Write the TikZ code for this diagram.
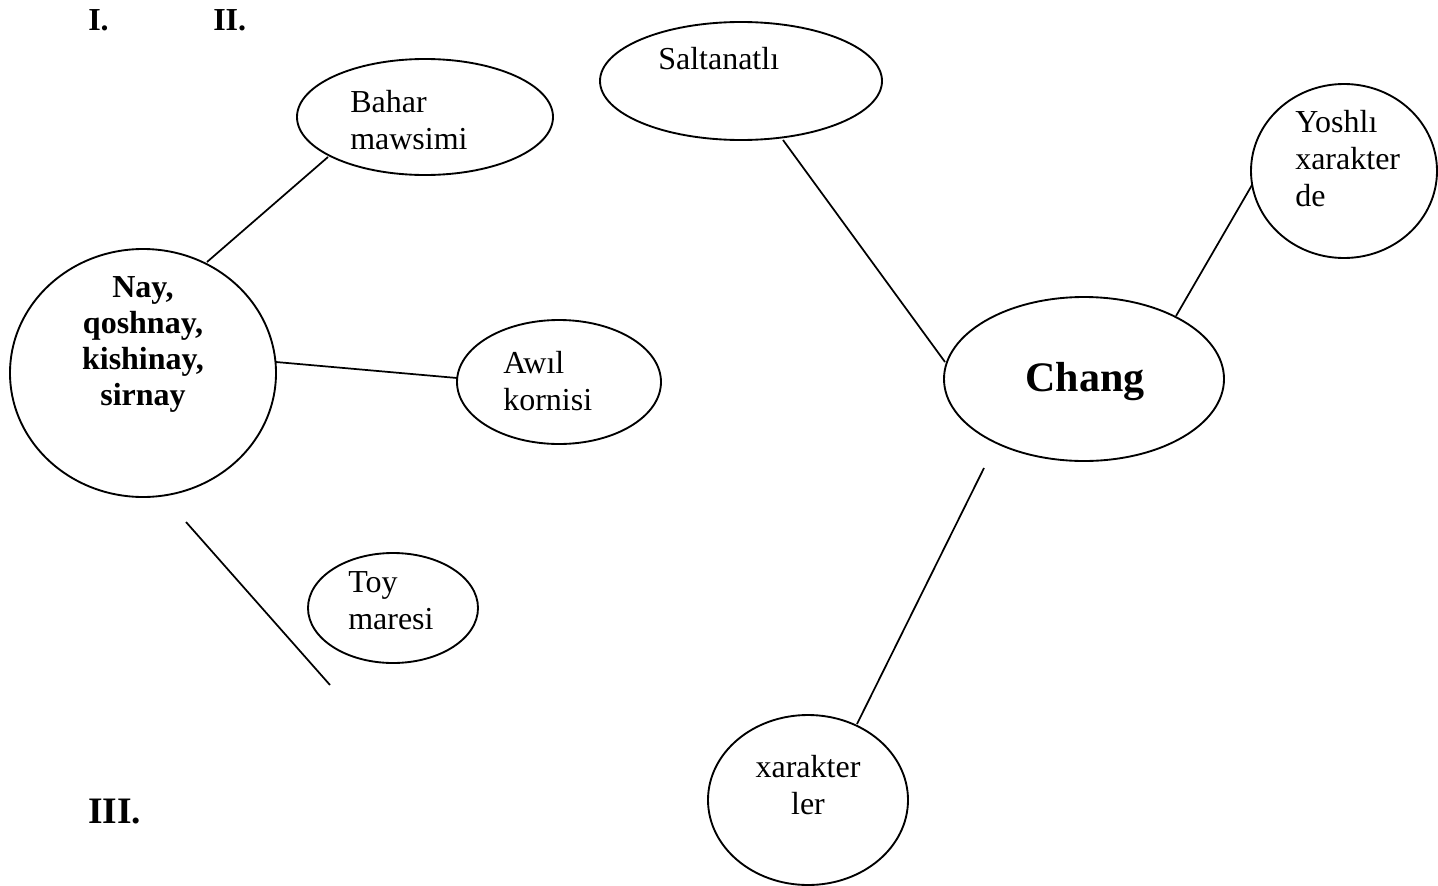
\documentclass[tikz,border=0pt]{standalone}
\usepackage{fontspec}
\setmainfont{Liberation Serif}
\usetikzlibrary{shapes.geometric}
\begin{document}
\begin{tikzpicture}[x=0.75pt,y=-0.75pt,
  ell/.style 2 args={draw, ellipse, line width=1.4pt, inner sep=0pt,
     minimum width=1.5*#1pt, minimum height=1.5*#2pt},
  lbl/.style={inner sep=0pt, anchor=base west, align=left,
     font=\fontsize{24}{27.6}\selectfont},
  clbl/.style={inner sep=0pt, anchor=base, align=center,
     font=\fontsize{24}{27.6}\selectfont},
  conn/.style={line width=1.3pt}]
\useasboundingbox (0,0) rectangle (1438,885);
% ellipses
\node[ell={128}{58}] (ebahar) at (425,117) {};
\node[ell={133}{124}] (enay) at (143,373) {};
\node[ell={102}{62}] (eawil) at (559,382) {};
\node[ell={85}{55}] (etoy) at (393,608) {};
\node[ell={141}{59}] (esalt) at (741,81) {};
\node[ell={140}{82}] (echang) at (1084,379) {};
\node[ell={93}{87}] (eyosh) at (1344,171) {};
\node[ell={100}{85}] (exar) at (808,800) {};
% texts (base anchor = baseline of last line)
\node[lbl] (tbahar) at (350,149) {Bahar\\mawsimi};
\node[lbl] (tawil) at (503,410) {Awıl\\kornisi};
\node[lbl] (ttoy) at (348,629) {Toy\\maresi};
\node[lbl] (tsalt) at (658,69) {Saltanatlı};
\node[lbl] (tyosh) at (1295,206) {Yoshlı\\xarakter\\de};
\node[clbl] (txar) at (808,814) {xarakter\\ler};
\node[clbl, font=\fontsize{24}{26.8}\selectfont\bfseries] (tnay) at (143,405) {Nay,\\qoshnay,\\kishinay,\\sirnay};
\node[inner sep=0pt, anchor=base, font=\fontsize{31.5}{36}\selectfont\bfseries] (tchang) at (1085,391) {Chang};
\node[lbl, font=\fontsize{24}{27.6}\selectfont\bfseries] (tI) at (88,31) {I.};
\node[lbl, font=\fontsize{24}{27.6}\selectfont\bfseries] (tII) at (213,31) {II.};
\node[lbl, font=\fontsize{28}{32}\selectfont\bfseries] (tIII) at (88,823) {III.};
% connector ends
\coordinate (a1) at (207,262); \coordinate (a2) at (328,157);
\coordinate (b1) at (276,362); \coordinate (b2) at (457,378);
\coordinate (c1) at (186,522); \coordinate (c2) at (330,685);
\coordinate (d1) at (783,140); \coordinate (d2) at (945,362);
\coordinate (e1) at (1176,316); \coordinate (e2) at (1252,185);
\coordinate (f1) at (984,468); \coordinate (f2) at (857,724);
\draw[conn] (a1) -- (a2);
\draw[conn] (b1) -- (b2);
\draw[conn] (c1) -- (c2);
\draw[conn] (d1) -- (d2);
\draw[conn] (e1) -- (e2);
\draw[conn] (f1) -- (f2);
\end{tikzpicture}
\end{document}
